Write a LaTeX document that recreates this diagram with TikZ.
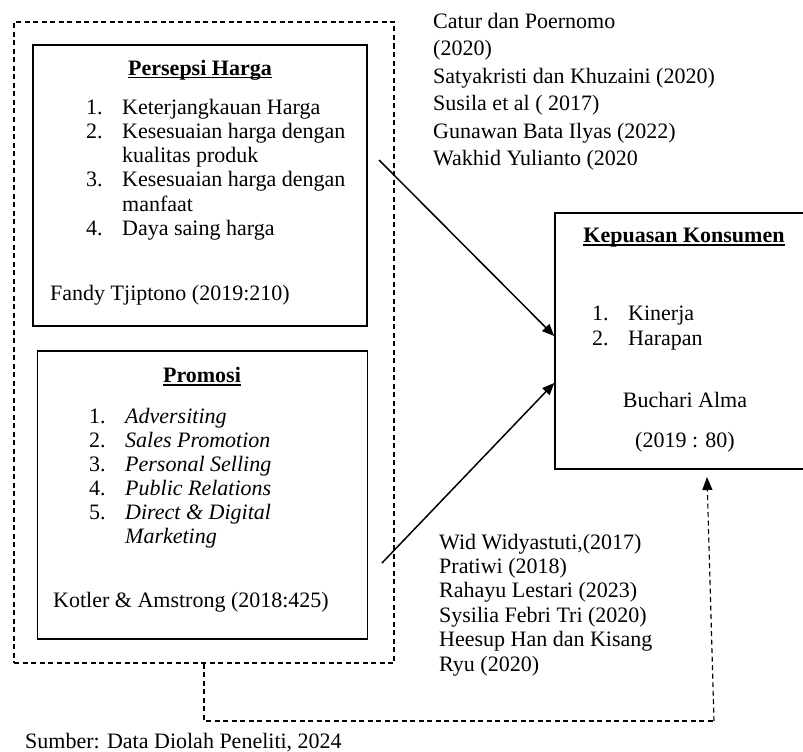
\documentclass[tikz,border=0pt]{standalone}
\usepackage{fontspec}
\setmainfont{Liberation Serif}
\usetikzlibrary{arrows.meta}
\newcommand{\thickul}[1]{\setbox0\hbox{#1}\rlap{\raisebox{-3.5pt}{\rule{\wd0}{1.8pt}}}\box0}
\begin{document}
\begin{tikzpicture}[x=1pt,y=-1pt,
  txt/.style={anchor=base west, inner sep=0pt, font=\fontsize{22}{24}\selectfont},
  itxt/.style={txt, font=\fontsize{22}{24}\selectfont\itshape},
  ctxt/.style={anchor=base, inner sep=0pt, font=\fontsize{22}{24}\selectfont},
  head/.style={anchor=base, inner sep=0pt, font=\fontsize{22}{24}\selectfont\bfseries},
  box/.style={draw, line width=1.6pt, inner sep=0pt},
  dashbox/.style={draw, dashed, dash pattern=on 5pt off 3.5pt, line width=1.1pt, inner sep=0pt},
  arr/.style={line width=1.5pt, -{Triangle[length=12pt,width=10pt]}},
  darr/.style={line width=1.1pt, dash pattern=on 5pt off 3.5pt, -{Triangle[length=13pt,width=10pt]}}
]
\useasboundingbox (0,0) rectangle (803,752);

% outer dashed frame
\node[dashbox, minimum width=380pt, minimum height=641pt] (outer) at (204,342.5) {};

% Persepsi Harga box
\node[box, minimum width=334pt, minimum height=281pt] (pers) at (200,185.5) {};
\node[head] (ph) at (200,75) {\thickul{Persepsi Harga}};
\node[txt] (p1n) at (86,114) {1.};
\node[txt] (p1) at (122,114) {Keterjangkauan Harga};
\node[txt] (p2n) at (86,138.3) {2.};
\node[txt] (p2) at (122,138.3) {Kesesuaian harga dengan};
\node[txt] (p2b) at (122,162.6) {kualitas produk};
\node[txt] (p3n) at (86,186.9) {3.};
\node[txt] (p3) at (122,186.9) {Kesesuaian harga dengan};
\node[txt] (p3b) at (122,211.2) {manfaat};
\node[txt] (p4n) at (86,235.5) {4.};
\node[txt] (p4) at (122,235.5) {Daya saing harga};
\node[txt] (pref) at (50,300) {Fandy Tjiptono (2019:210)};

% Promosi box
\node[box, minimum width=330pt, minimum height=288pt] (prom) at (202.5,495) {};
\node[head] (prh) at (202,382) {\thickul{Promosi}};
\node[txt] (r1n) at (89,423) {1.};
\node[itxt] (r1) at (125,423) {Adversiting};
\node[txt] (r2n) at (89,447) {2.};
\node[itxt] (r2) at (125,447) {Sales Promotion};
\node[txt] (r3n) at (89,471) {3.};
\node[itxt] (r3) at (125,471) {Personal Selling};
\node[txt] (r4n) at (89,495) {4.};
\node[itxt] (r4) at (125,495) {Public Relations};
\node[txt] (r5n) at (89,519) {5.};
\node[itxt] (r5) at (125,519) {Direct \& Digital};
\node[itxt] (r5b) at (125,543) {Marketing};
\node[txt] (rref) at (53,607) {Kotler \& Amstrong (2018:425)};

% Kepuasan Konsumen box
\node[box, minimum width=256pt, minimum height=256pt] (kep) at (683,341) {};
\node[head] (kh) at (684,242) {\thickul{Kepuasan Konsumen}};
\node[txt] (k1n) at (592,320) {1.};
\node[txt] (k1) at (628,320) {Kinerja};
\node[txt] (k2n) at (592,345) {2.};
\node[txt] (k2) at (628,345) {Harapan};
\node[ctxt] (kref1) at (685,407) {Buchari Alma};
\node[ctxt] (kref2) at (685,447) {(2019 : 80)};

% upper citations
\node[txt] (c1) at (433,29) {Catur dan Poernomo};
\node[txt] (c2) at (433,55.5) {(2020)};
\node[txt] (c3) at (433,83.5) {Satyakristi dan Khuzaini (2020)};
\node[txt] (c4) at (433,110.5) {Susila et al ( 2017)};
\node[txt] (c5) at (433,138.5) {Gunawan Bata Ilyas (2022)};
\node[txt] (c6) at (433,165.5) {Wakhid Yulianto (2020};

% lower citations
\node[txt] (w1) at (439,549) {Wid Widyastuti,(2017)};
\node[txt] (w2) at (439,573.4) {Pratiwi (2018)};
\node[txt] (w3) at (439,597.8) {Rahayu Lestari (2023)};
\node[txt] (w4) at (439,622.2) {Sysilia Febri Tri (2020)};
\node[txt] (w5) at (439,646.6) {Heesup Han dan Kisang};
\node[txt] (w6) at (439,671) {Ryu (2020)};

% source
\node[txt] (src) at (25,748) {Sumber: Data Diolah Peneliti, 2024};

% arrows
\coordinate (a1s) at (379,160);
\coordinate (a2s) at (382,563);
\draw[arr] (a1s) -- (kep.west |- 0,336);
\draw[arr] (a2s) -- (kep.west |- 0,383);

% dashed connector
\coordinate (d0) at (204,721);
\coordinate (d1) at (714,721);
\coordinate (d2) at (707,477);
\draw[line width=1.1pt, dash pattern=on 5pt off 3.5pt] (outer.south -| d0) -- (d0) -- (d1);
\draw[darr] (d1) -- (d2);
\end{tikzpicture}
\end{document}
